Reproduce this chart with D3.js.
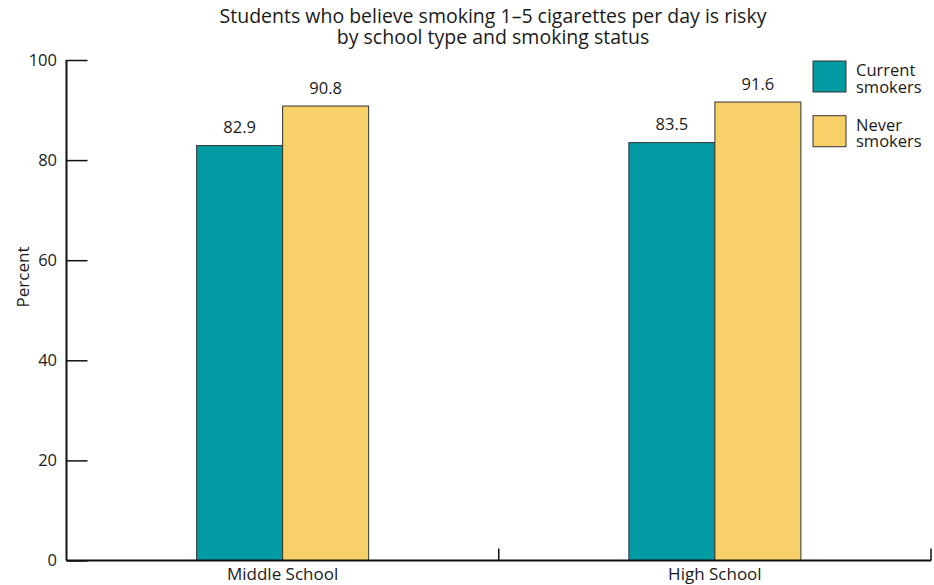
<!DOCTYPE html>
<html>
<head>
<meta charset="utf-8">
<script src="https://cdn.jsdelivr.net/npm/d3@7"></script>
<style>
  body { margin: 0; background: #fff; }
  text { font-family: "Open Sans", "Liberation Sans", Arial, sans-serif; fill: #1a1a1a; }
</style>
</head>
<body>
<div id="container"></div>
<script>
/* DATA */
const schools = ["Middle School", "High School"]
const groups = ["Current smokers", "Never smokers"]
const currentSmokers = [82.9, 83.5]
const neverSmokers = [90.8, 91.6]
const yTicks = [0, 20, 40, 60, 80, 100]
const colors = ["#039ba3", "#f8d068"]
const titleLines = ["Students who believe smoking 1\u20135 cigarettes per day is risky",
                    "by school type and smoking status"]

const W = 934, H = 585
const margin = {top: 60, right: 3, bottom: 24.5, left: 66.5}
const width = W - margin.left - margin.right
const height = H - margin.top - margin.bottom

const svg = d3.select("#container")
  .append("svg")
    .attr("width", W)
    .attr("height", H)

const g = svg.append("g")
  .attr("transform", "translate(" + margin.left + "," + margin.top + ")")

// SCALES
const xScale = d3.scaleBand()
  .domain(schools)
  .range([0, width])

const xSub = d3.scaleBand()
  .domain(groups)
  .range([0, 172])

const yScale = d3.scaleLinear()
  .domain([0, 100])
  .range([height, 0])

// BARS
const rows = schools.map((s, i) => ({school: s, values: [currentSmokers[i], neverSmokers[i]]}))

const grp = g.selectAll(".school")
  .data(rows)
  .join("g")
    .attr("class", "school")
    .attr("transform", d => "translate(" + (xScale(d.school) + xScale.bandwidth() / 2 - 86) + ",0)")

grp.selectAll("rect")
  .data(d => d.values.map((v, j) => ({group: groups[j], value: v, j: j})))
  .join("rect")
    .attr("x", d => xSub(d.group))
    .attr("y", d => yScale(d.value))
    .attr("width", xSub.bandwidth())
    .attr("height", d => height - yScale(d.value))
    .attr("fill", d => colors[d.j])
    .attr("stroke", "#333")
    .attr("stroke-width", 1)

grp.selectAll("text.val")
  .data(d => d.values.map((v, j) => ({group: groups[j], value: v})))
  .join("text")
    .attr("class", "val")
    .attr("x", d => xSub(d.group) + xSub.bandwidth() / 2)
    .attr("y", d => yScale(d.value) - 12.5)
    .attr("text-anchor", "middle")
    .style("font-size", "16.5px")
    .text(d => d.value.toFixed(1))

// AXES
const yAxis = g.append("g")
  .call(d3.axisRight(yScale).tickValues(yTicks).tickSize(21).tickFormat(""))
yAxis.select(".domain").remove()
yAxis.selectAll("line").attr("stroke", "#111").attr("stroke-width", 1.5)
g.append("line")
  .attr("x1", 0).attr("x2", 0)
  .attr("y1", yScale(100)).attr("y2", height)
  .attr("stroke", "#111").attr("stroke-width", 2)

g.selectAll(".ylab")
  .data(yTicks)
  .join("text")
    .attr("class", "ylab")
    .attr("x", -9.5)
    .attr("y", d => yScale(d))
    .attr("dy", "0.35em")
    .attr("text-anchor", "end")
    .style("font-size", "16.5px")
    .text(d => d)

// x axis baseline with boundary ticks
g.append("line")
  .attr("x1", 0).attr("x2", width)
  .attr("y1", height).attr("y2", height)
  .attr("stroke", "#111").attr("stroke-width", 2)

g.selectAll(".xtick")
  .data(schools)
  .join("line")
    .attr("class", "xtick")
    .attr("x1", d => xScale(d) + xScale.bandwidth())
    .attr("x2", d => xScale(d) + xScale.bandwidth())
    .attr("y1", height)
    .attr("y2", height - 12)
    .attr("stroke", "#111")
    .attr("stroke-width", 1.5)

g.selectAll(".xlab")
  .data(schools)
  .join("text")
    .attr("class", "xlab")
    .attr("x", d => xScale(d) + xScale.bandwidth() / 2)
    .attr("y", height + 19.5)
    .attr("text-anchor", "middle")
    .style("font-size", "17px")
    .text(d => d)

// Y LABEL
svg.append("text")
  .attr("transform", "translate(29,277) rotate(-90)")
  .attr("text-anchor", "middle")
  .style("font-size", "17px")
  .text("Percent")

// TITLE
svg.append("text")
  .attr("text-anchor", "middle")
  .style("font-size", "19.5px")
  .selectAll("tspan")
  .data(titleLines)
  .join("tspan")
    .attr("x", 493)
    .attr("y", (d, i) => 22.5 + i * 21)
    .text(d => d)

// LEGEND
const legend = svg.append("g")
  .attr("transform", "translate(813,61)")

const li = legend.selectAll("g")
  .data(groups)
  .join("g")
    .attr("transform", (d, i) => "translate(0," + (i * 54.7) + ")")

li.append("rect")
  .attr("width", 33)
  .attr("height", 31)
  .attr("fill", (d, i) => colors[i])
  .attr("stroke", "#333")
  .attr("stroke-width", 1)

li.append("text")
  .style("font-size", "16.5px")
  .selectAll("tspan")
  .data(d => d.split(" "))
  .join("tspan")
    .attr("x", 43)
    .attr("y", (d, i) => 15 + i * 16.5)
    .text(d => d)
</script>
</body>
</html>
